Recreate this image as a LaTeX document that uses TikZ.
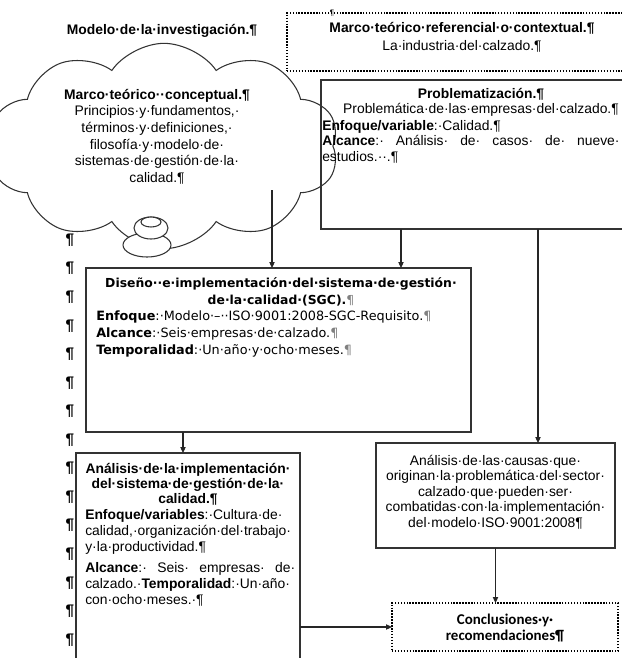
\documentclass[tikz,border=0pt]{standalone}
\usepackage{fontspec}
\setmainfont{Liberation Sans}
\newfontfamily\tahoma{DejaVu Sans}
\newfontfamily\calibri{Carlito}
\usetikzlibrary{arrows.meta,shapes.symbols,calc}
\tikzset{
  caja/.style={draw=black!80,line width=0.8pt,inner sep=0pt,outer sep=0pt,anchor=north west},
  cajapunto/.style={caja,draw=black,line width=1.2pt,dash pattern=on 1.1pt off 1.1pt},
  texto/.style={inner sep=0pt,align=center},
  flecha/.style={->,line width=0.8pt,draw=black!85},
  burbuja/.style={draw=black!80,line width=0.8pt,fill=white}
}
\begin{document}
\begin{tikzpicture}[x=0.75pt,y=-0.75pt,>={Triangle[length=4.5pt,width=4pt]},font=\fontsize{10.4}{11.6}\selectfont]
\useasboundingbox (0,0) rectangle (622,658);
% boxes
\node[cajapunto,minimum width=262.5pt,minimum height=43.5pt] (referencial) at (287,13) {};
\node[caja,minimum width=240pt,minimum height=111.75pt] (problema) at (321,80) {};
\node[caja,minimum width=288.75pt,minimum height=123pt] (diseno) at (86,268) {};
\node[caja,minimum width=168pt,minimum height=165pt] (analisis) at (76,453) {};
\node[caja,minimum width=179.25pt,minimum height=78.75pt] (causas) at (376,443) {};
\node[cajapunto,minimum width=169.5pt,minimum height=36pt] (conclusiones) at (392,603) {};
\begin{scope}[shift={(164,146)},xscale=1.16,yscale=1.1]
\node[cloud,draw=black!80,line width=0.8pt,cloud puffs=10,cloud puff arc=115,cloud ignores aspect,
  minimum width=226pt,minimum height=140pt,inner sep=0pt,transform shape] (nube) at (0,0) {};
\end{scope}
\draw[burbuja] (147,245) ellipse [x radius=24,y radius=12];
\draw[burbuja] (151,228) ellipse [x radius=17,y radius=11];
\draw[burbuja] (151,222) ellipse [x radius=10,y radius=5];
% texts
\node[texto] (titulo) at (162,31) {\textbf{Modelo·de·la·investigación.¶}};
\node[texto] (pilref) at (332,13) {\fontsize{6}{6}\selectfont ¶};
\node[texto,font=\fontsize{10.4}{13.5}\selectfont] (reftxt) at (462,37)
  {\textbf{Marco·teórico·referencial·o·contextual.¶}\\La·industria·del·calzado.¶};
\node[texto,font=\fontsize{10.4}{12.5}\selectfont] (nubetxt) at (157,136.5)
  {\textbf{Marco·teórico··conceptual.¶}\\Principios·y·fundamentos,·\\términos·y·definiciones,·\\filosofía·y·modelo·de·\\sistemas·de·gestión·de·la·\\calidad.¶};
\node[texto] (problematit) at (481,102.5)
  {\textbf{Problematización.¶}\\Problemática·de·las·empresas·del·calzado.¶};
\node[texto,align=left,anchor=west] (problematxt) at (322,141.5)
  {\textbf{Enfoque/variable}:·Calidad.¶\\\makebox[223pt][s]{\textbf{Alcance}:· Análisis· de· casos· de· nueve·}\\estudios.··.¶};
\node[texto,font=\tahoma\fontsize{9.3}{12.75}\selectfont] (disenotit) at (281,291.5)
  {\textbf{Diseño··e·implementación·del·sistema·de·gestión·}\\\textbf{de·la·calidad·(SGC).}\textcolor{gray}{¶}};
\node[texto,align=left,anchor=west,font=\tahoma\fontsize{9.6}{12.75}\selectfont] (disenotxt) at (96,334)
  {\textbf{Enfoque}:·Modelo·–··ISO·9001:2008-SGC-Requisito.\textcolor{gray}{¶}\\\textbf{Alcance}:·Seis·empresas·de·calzado.\textcolor{gray}{¶}\\\textbf{Temporalidad}:·Un·año·y·ocho·meses.\textcolor{gray}{¶}};
\node[texto,font=\fontsize{10.4}{11.25}\selectfont] (analisistit) at (188,484)
  {\textbf{Análisis·de·la·implementación·}\\\textbf{del·sistema·de·gestión·de·la·}\\\textbf{calidad.¶}};
\node[texto,align=left,anchor=west,font=\fontsize{10.4}{12}\selectfont] (analisistxt) at (85,557.5)
  {\textbf{Enfoque/variables}:·Cultura·de·\\calidad,·organización·del·trabajo·\\y·la·productividad.¶\\[3.75pt]\makebox[157.5pt][s]{\textbf{Alcance}:· Seis· empresas· de·}\\calzado.·\textbf{Temporalidad}:·Un·año·\\con·ocho·meses.·¶};
\node[texto] (causastxt) at (495.5,492)
  {Análisis·de·las·causas·que·\\originan·la·problemática·del·sector·\\calzado·que·pueden·ser·\\combatidas·con·la·implementación·\\del·modelo·ISO·9001:2008¶};
\node[texto,font=\calibri\bfseries\fontsize{11.2}{12}\selectfont] (conclusionestxt) at (505,628)
  {Conclusiones·y·\\recomendaciones¶};
\foreach \k in {0,...,14}
  \node[texto,font=\fontsize{11.5}{12}\selectfont] (pil\k) at (70,{240+28.57*\k}) {\textbf{¶}};
% arrows
\coordinate (nubeout) at (272,190);
\draw[flecha] (nubeout) -- (nubeout |- diseno.north);
\draw[flecha] ($(problema.south west)+(80,0)$) -- ($(diseno.north west)+(315,0)$);
\draw[flecha] ($(problema.south west)+(217,0)$) -- ($(causas.north west)+(162,0)$);
\draw[flecha] ($(diseno.south west)+(97,0)$) -- ($(analisis.north west)+(107,0)$);
\draw[flecha] (causas.south) -- (causas.south |- conclusiones.north);
\draw[flecha] (conclusiones.west -| analisis.east) -- (conclusiones.west);
\end{tikzpicture}
\end{document}
